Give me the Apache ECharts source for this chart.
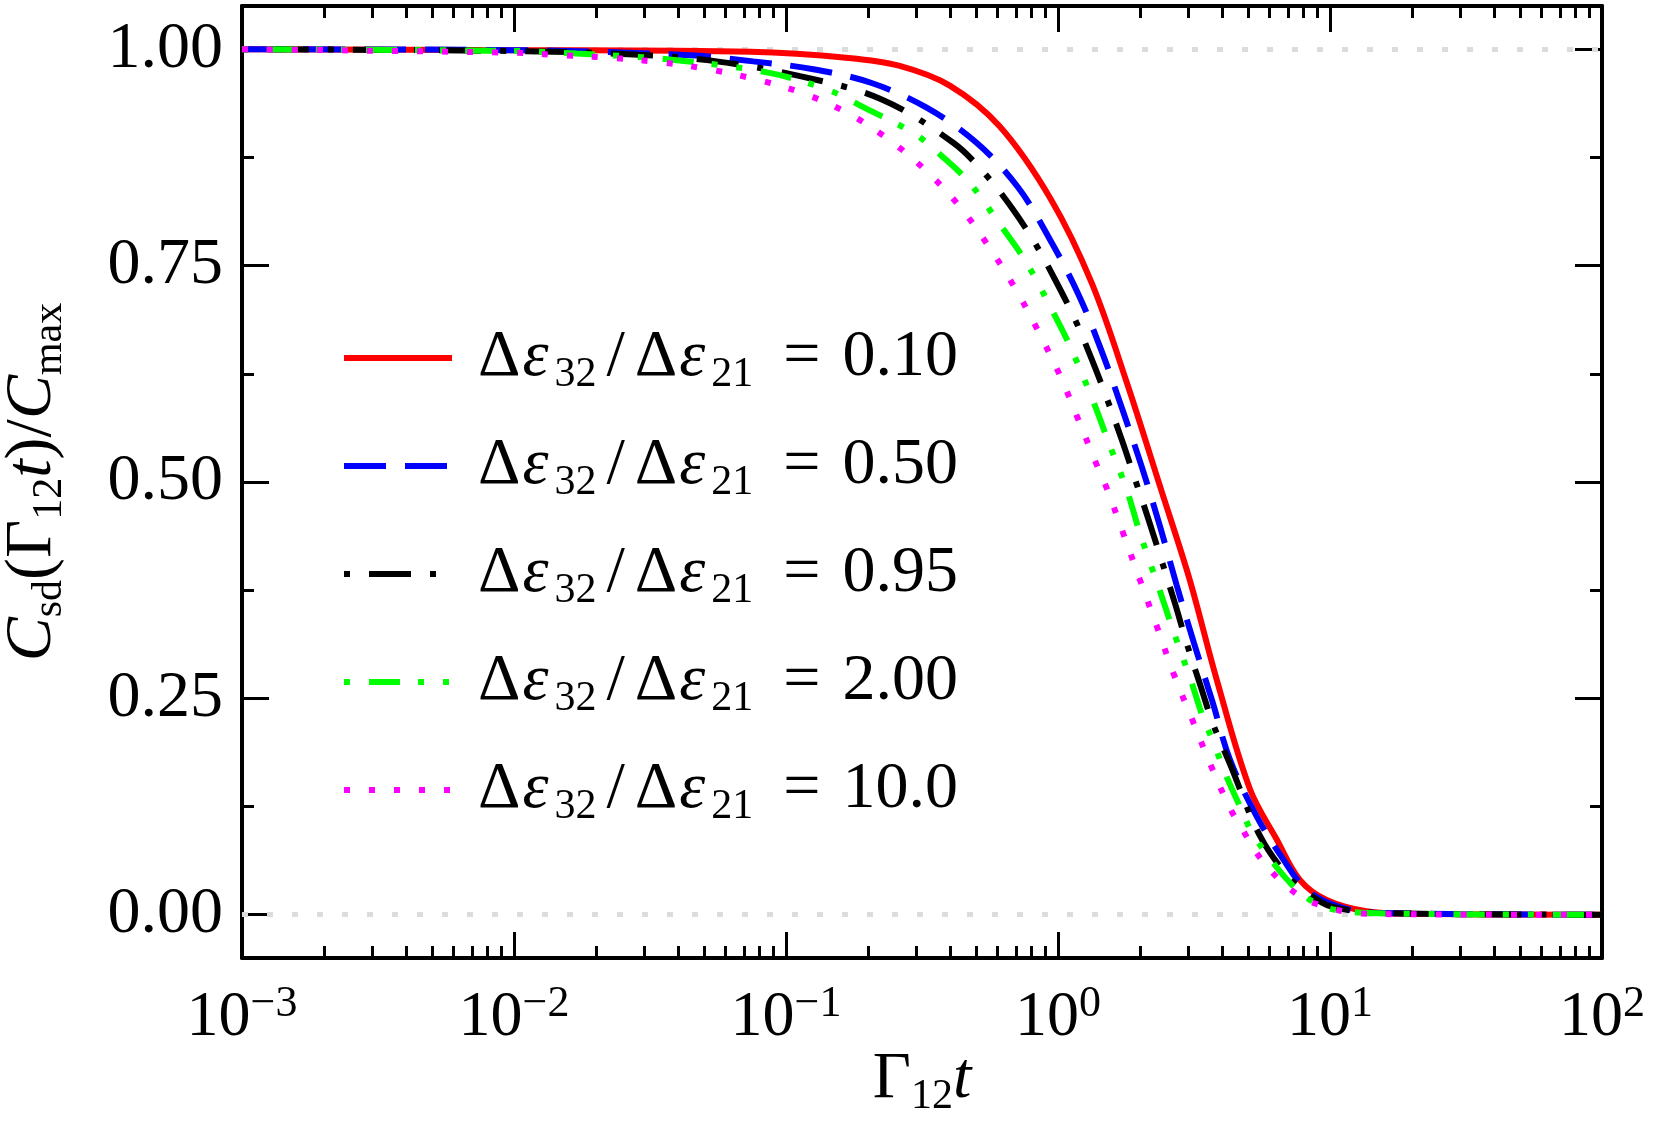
<!DOCTYPE html>
<html>
<head>
<meta charset="utf-8">
<title>Csd decay</title>
<script src="https://cdn.jsdelivr.net/npm/echarts@6/dist/echarts.min.js"></script>
<style>
  html, body { margin: 0; padding: 0; background: #fff; }
  #chart { width: 1659px; height: 1125px; }
</style>
</head>
<body>
<div id="chart"></div>
<script>
// ---- data ----
var ratioLabels = ['0.10', '0.50', '0.95', '2.00', '10.0'];

var xRed = [0.001, 0.01, 0.074, 0.17, 0.26, 0.40, 0.61, 0.94, 1.33, 1.79, 2.40, 3.05, 3.83, 5.08, 6.37, 7.76, 9.72, 13.6, 20, 100];
var yRed = [1.000, 0.999, 0.997, 0.990, 0.981, 0.958, 0.911, 0.827, 0.730, 0.615, 0.490, 0.387, 0.272, 0.145, 0.087, 0.040, 0.017, 0.004, 0.001, 0.000];

var xBlue = [0.001, 0.01, 0.0444, 0.0757, 0.126, 0.2065, 0.329, 0.502, 0.715, 0.935, 1.188, 1.448, 1.715, 2.03, 2.37, 2.73, 3.16, 3.69, 4.29, 5.37, 6.73, 8.2, 10.6, 15, 100];
var yBlue = [1.000, 0.999, 0.993, 0.986, 0.977, 0.961, 0.9325, 0.892, 0.840, 0.780, 0.717, 0.651, 0.586, 0.518, 0.449, 0.381, 0.314, 0.247, 0.179, 0.114, 0.064, 0.029, 0.010, 0.002, 0.000];

var xBlack = [0.001, 0.01, 0.0275, 0.0556, 0.1126, 0.225, 0.412, 0.539, 0.676, 0.823, 0.975, 1.154, 1.33, 1.51, 1.715, 1.92, 2.15, 2.69, 2.97, 3.33, 3.72, 4.29, 5.53, 7.03, 8.44, 10, 15, 100];
var yBlack = [1.000, 0.998, 0.994, 0.986, 0.969, 0.942, 0.892, 0.856, 0.817, 0.776, 0.734, 0.688, 0.642, 0.597, 0.549, 0.503, 0.457, 0.360, 0.314, 0.266, 0.220, 0.174, 0.091, 0.044, 0.023, 0.010, 0.002, 0.000];

var xGreen = [0.001, 0.01, 0.017, 0.038, 0.086, 0.143, 0.190, 0.298, 0.379, 0.475, 0.604, 0.767, 0.975, 1.122, 1.368, 1.53, 1.79, 2.0, 2.37, 2.62, 3.10, 3.42, 3.72, 4.11, 4.73, 5.15, 6.11, 7.55, 8.94, 11.2, 20, 100];
var yGreen = [1.000, 0.998, 0.995, 0.988, 0.973, 0.953, 0.934, 0.902, 0.875, 0.845, 0.800, 0.753, 0.692, 0.653, 0.588, 0.547, 0.491, 0.441, 0.374, 0.333, 0.268, 0.227, 0.200, 0.164, 0.121, 0.096, 0.062, 0.029, 0.013, 0.004, 0.001, 0.000];

var xPink = [0.001, 0.0099, 0.0152, 0.0229, 0.0344, 0.0518, 0.078, 0.116, 0.169, 0.238, 0.329, 0.436, 0.554, 0.695, 0.847, 1.017, 1.188, 1.387, 1.51, 1.74, 2.0, 2.31, 2.65, 3.10, 3.62, 4.29, 4.78, 5.30, 6.01, 6.93, 8.2, 10, 12.2, 20, 100];
var yPink = [1.000, 0.996, 0.993, 0.990, 0.985, 0.977, 0.965, 0.949, 0.926, 0.896, 0.859, 0.818, 0.773, 0.724, 0.674, 0.623, 0.572, 0.520, 0.493, 0.440, 0.387, 0.333, 0.280, 0.227, 0.175, 0.123, 0.098, 0.074, 0.052, 0.033, 0.017, 0.008, 0.002, 0.0005, 0.000];

var yTickValues = [0, 0.25, 0.5, 0.75, 1];
var yMinorValues = [0.125, 0.375, 0.625, 0.875];
var refLines = [0, 1];   // grey dotted guide lines

// ---- styling ----
var FONT = 'Liberation Serif';

function pairs(xs, ys) {
    return xs.map(function (x, i) { return [x, ys[i]]; });
}

function makeSeries(name, xs, ys, color, dash, offset) {
    return {
        name: name,
        type: 'line',
        data: pairs(xs, ys),
        symbol: 'none',
        showSymbol: false,
        smooth: 0.35,
        z: 3,
        lineStyle: { color: color, width: 6, type: dash, dashOffset: offset || 0, cap: 'butt' },
        itemStyle: { color: color, opacity: 0 }
    };
}

var tickStyle = { color: '#000', width: 3 };
var frameLine = { show: true, onZero: false, lineStyle: { color: '#000', width: 4 } };

function xAxisCfg(pos, withLabels) {
    return {
        type: 'log',
        logBase: 10,
        position: pos,
        min: 0.001,
        max: 100,
        axisLine: frameLine,
        splitLine: { show: false },
        axisTick: { show: true, inside: true, length: 26, lineStyle: tickStyle },
        minorTick: { show: true, splitNumber: 9, length: 12, lineStyle: tickStyle },
        axisLabel: withLabels ? {
            show: true,
            margin: 24,
            formatter: function (v) {
                var e = Math.round(Math.log10(v));
                return '{b|10}{sup|' + (e < 0 ? '\u2212' + (-e) : e) + '}';
            },
            rich: {
                b: { fontFamily: FONT, fontSize: 64, lineHeight: 72, color: '#000' },
                sup: { fontFamily: FONT, fontSize: 44, lineHeight: 40, verticalAlign: 'top', color: '#000' }
            }
        } : { show: false }
    };
}

function yAxisCfg(pos, ticks, len, withLine, withLabels) {
    var cfg = {
        type: 'value',
        position: pos,
        min: -0.05,
        max: 1.05,
        splitLine: { show: false },
        axisLine: withLine ? frameLine : { show: false, onZero: false },
        axisTick: { show: true, inside: true, length: len, customValues: ticks, lineStyle: tickStyle },
        axisLabel: { show: false }
    };
    if (withLabels) {
        cfg.axisLabel = {
            show: true,
            customValues: ticks,
            margin: 19,
            fontFamily: FONT,
            fontSize: 66,
            color: '#000',
            formatter: function (v) { return v.toFixed(2); }
        };
    }
    return cfg;
}

var subRich = {
    n: { fontFamily: FONT, fontSize: 66, lineHeight: 76, color: '#000' },
    ci: { fontFamily: FONT, fontSize: 66, lineHeight: 76, fontStyle: 'italic', color: '#000' },
    ti: { fontFamily: FONT, fontSize: 66, lineHeight: 76, fontStyle: 'italic', color: '#000' },
    sub: { fontFamily: FONT, fontSize: 42, lineHeight: 42, verticalAlign: 'bottom', color: '#000' }
};

var yLeft = yAxisCfg('left', yTickValues, 27, true, true);
yLeft.name = '{ci|C}{sub|sd}{n|(\u0393}{sub|12}{ti|t}{n|)/}{ci|C}{sub|max}';
yLeft.nameLocation = 'middle';
yLeft.nameGap = 171;
yLeft.nameMoveOverlap = false;
yLeft.nameTextStyle = { fontFamily: FONT, fontSize: 66, color: '#000', rich: subRich };

var xBottom = xAxisCfg('bottom', true);
xBottom.name = '{n|\u0393}{sub|12}{ti|t}';
xBottom.nameLocation = 'middle';
xBottom.nameGap = 84;
xBottom.nameMoveOverlap = false;
xBottom.nameTextStyle = { fontFamily: FONT, fontSize: 66, color: '#000', rich: subRich };

var seriesList = [
    makeSeries(ratioLabels[0], xRed, yRed, '#ff0000', 'solid'),
    makeSeries(ratioLabels[1], xBlue, yBlue, '#0000ff', [42, 19]),
    makeSeries(ratioLabels[2], xBlack, yBlack, '#000000', [42, 19, 6, 19], 61),
    makeSeries(ratioLabels[3], xGreen, yGreen, '#00ff00', [31, 18, 6, 19, 6, 19], 74),
    makeSeries(ratioLabels[4], xPink, yPink, '#ff00ff', [6, 19])
];

// guide lines at 0 and 1, drawn under the curves
seriesList.push({
    type: 'line',
    data: [],
    silent: true,
    markLine: {
        silent: true,
        z: 1,
        symbol: ['none', 'none'],
        label: { show: false },
        lineStyle: { color: '#dcdcdc', width: 5, type: [6, 19], cap: 'butt' },
        data: refLines.map(function (v) { return { yAxis: v }; })
    }
});

var option = {
    animation: false,
    backgroundColor: '#fff',
    grid: { left: 242, right: 57, top: 6, bottom: 167, containLabel: false, outerBoundsMode: 'none' },
    xAxis: [xBottom, xAxisCfg('top', false)],
    yAxis: [
        yLeft,
        yAxisCfg('left', yMinorValues, 12, false, false),
        yAxisCfg('right', yTickValues, 27, true, false),
        yAxisCfg('right', yMinorValues, 12, false, false)
    ],
    legend: {
        data: ratioLabels,
        orient: 'vertical',
        left: 341,
        top: 325,
        padding: 0,
        itemGap: 37,
        itemWidth: 108,
        itemHeight: 14,
        selectedMode: false,
        itemStyle: { opacity: 0 },
        lineStyle: { width: 6 },
        formatter: function (name) {
            return '{d1|\u0394}{e|\u03b5}{s|32}{sl|/}{d2|\u0394}{e|\u03b5}{s|21}{eq|=}{v|' + name + '}';
        },
        textStyle: {
            fontFamily: FONT,
            fontSize: 66,
            color: '#000',
            rich: {
                d1: { fontFamily: FONT, fontSize: 66, lineHeight: 76, color: '#000', padding: [0, 0, 0, 21] },
                d2: { fontFamily: FONT, fontSize: 66, lineHeight: 76, color: '#000', padding: [0, 0, 0, 8] },
                e: { fontFamily: FONT, fontSize: 66, lineHeight: 76, fontStyle: 'italic', color: '#000', padding: [0, 4, 0, 2] },
                s: { fontFamily: FONT, fontSize: 42, lineHeight: 42, verticalAlign: 'bottom', color: '#000', padding: [0, 0, 0, 2] },
                sl: { fontFamily: FONT, fontSize: 66, lineHeight: 76, color: '#000', padding: [0, 2, 0, 10] },
                eq: { fontFamily: FONT, fontSize: 66, lineHeight: 76, color: '#000', padding: [0, 22, 0, 30] },
                v: { fontFamily: FONT, fontSize: 66, lineHeight: 76, color: '#000' }
            }
        }
    },
    series: seriesList
};

var myChart = echarts.init(document.getElementById('chart'), null, { renderer: 'canvas' });
myChart.setOption(option);
</script>
</body>
</html>
